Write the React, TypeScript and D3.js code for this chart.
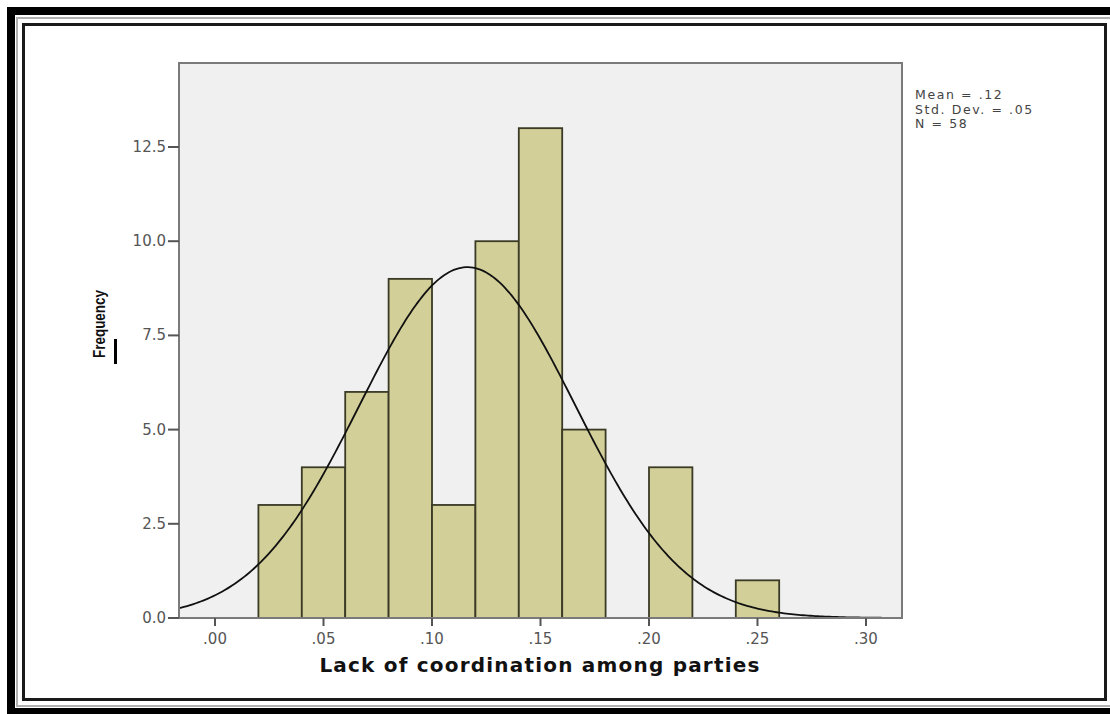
import React from "react";
import * as d3 from "d3";

const binStarts = [0.02, 0.04, 0.06, 0.08, 0.10, 0.12, 0.14, 0.16, 0.18, 0.20, 0.22, 0.24];
const counts = [3, 4, 6, 9, 3, 10, 13, 5, 0, 4, 0, 1];
const binWidth = 0.02;
const xTicks = [0, 0.05, 0.1, 0.15, 0.2, 0.25, 0.3];
const xTickLabels = [".00", ".05", ".10", ".15", ".20", ".25", ".30"];
const yTicks = [0, 2.5, 5, 7.5, 10, 12.5];
const yTickLabels = ["0.0", "2.5", "5.0", "7.5", "10.0", "12.5"];
const fitMean = 0.1163;
const fitSd = 0.0497;
const nObs = 58;
const legendLines = ["Mean = .12", "Std. Dev. = .05", "N = 58"];

export default function App() {
  const W = 1110, H = 714;
  const L = 179, R = 902, T = 63, B = 618;
  const x = d3.scaleLinear().domain([-0.0166, 0.3166]).range([L, R]);
  const y = d3.scaleLinear().domain([0, (B - T) / 37.68]).range([B, T]);
  const font = "'Liberation Sans', Arial, sans-serif";
  const wide = "'DejaVu Sans', Verdana, sans-serif";

  const [x0, x1] = x.domain();
  const pts: [number, number][] = d3.range(0, 301).map((i) => {
    const v = x0 + ((x1 - x0) * i) / 300;
    const z = (v - fitMean) / fitSd;
    const f = (nObs * binWidth) / (fitSd * Math.sqrt(2 * Math.PI)) * Math.exp(-0.5 * z * z);
    return [v, f];
  });
  const line = d3.line<[number, number]>().x((d) => x(d[0])).y((d) => y(d[1]));

  return (
    <svg width={W} height={H} style={{ position: "absolute", left: 0, top: 0, background: "#fff" }}>
      <defs>
        <clipPath id="plotclip">
          <rect x={L} y={T} width={R - L} height={B - T} />
        </clipPath>
      </defs>
      {/* page frame */}
      <rect x={11} y={11} width={1112} height={701} fill="none" stroke="#000" strokeWidth={8} />
      <rect x={17} y={18} width={1095} height={688} fill="none" stroke="#b0b0b0" strokeWidth={2} />
      <rect x={23.5} y={24.5} width={1082} height={675} fill="none" stroke="#1a1a1a" strokeWidth={3} />

      {/* plot background */}
      <rect x={L} y={T} width={R - L} height={B - T} fill="#f0f0f0" />

      {/* bars */}
      {binStarts.map((s, i) =>
        counts[i] > 0 ? (
          <rect
            key={i}
            x={x(s)}
            y={y(counts[i])}
            width={x(s + binWidth) - x(s)}
            height={y(0) - y(counts[i])}
            fill="#d3cf98"
            stroke="#3a3a26"
            strokeWidth={1.8}
          />
        ) : null
      )}

      {/* normal curve */}
      <path d={line(pts) || ""} fill="none" stroke="#111" strokeWidth={1.8} clipPath="url(#plotclip)" />

      {/* plot frame */}
      <rect x={L} y={T} width={R - L} height={B - T} fill="none" stroke="#7a7a7a" strokeWidth={2} />

      {/* y axis ticks */}
      {yTicks.map((t, i) => (
        <g key={i}>
          <line x1={L - 11} x2={L} y1={y(t)} y2={y(t)} stroke="#555" strokeWidth={2} />
          <text x={L - 13} y={y(t) + 5} textAnchor="end" fontFamily={wide} fontSize={15} fill="#555">
            {yTickLabels[i]}
          </text>
        </g>
      ))}

      {/* x axis ticks */}
      {xTicks.map((t, i) => (
        <g key={i}>
          <line x1={x(t)} x2={x(t)} y1={B} y2={B + 8} stroke="#555" strokeWidth={2} />
          <text x={x(t)} y={B + 26} textAnchor="middle" fontFamily={wide} fontSize={15} fill="#555">
            {xTickLabels[i]}
          </text>
        </g>
      ))}

      {/* axis titles */}
      <text
        x={540}
        y={672}
        textAnchor="middle"
        fontFamily={wide}
        fontSize={20}
        fontWeight="bold"
        letterSpacing={1.2}
        fill="#111"
      >
        Lack of coordination among parties
      </text>
      <text
        transform={`translate(105,324) rotate(-90)`}
        textAnchor="middle"
        fontFamily={font}
        fontSize={17}
        fontWeight="bold"
        textLength={68}
        lengthAdjust="spacingAndGlyphs"
        fill="#111"
      >
        Frequency
      </text>
      <rect x={114} y={339} width={3} height={25} fill="#000" />

      {/* legend */}
      {legendLines.map((s, i) => (
        <text key={i} x={915} y={99 + i * 14.5} fontFamily={wide} fontSize={12.5} letterSpacing={1.6} fill="#444">
          {s}
        </text>
      ))}
    </svg>
  );
}
